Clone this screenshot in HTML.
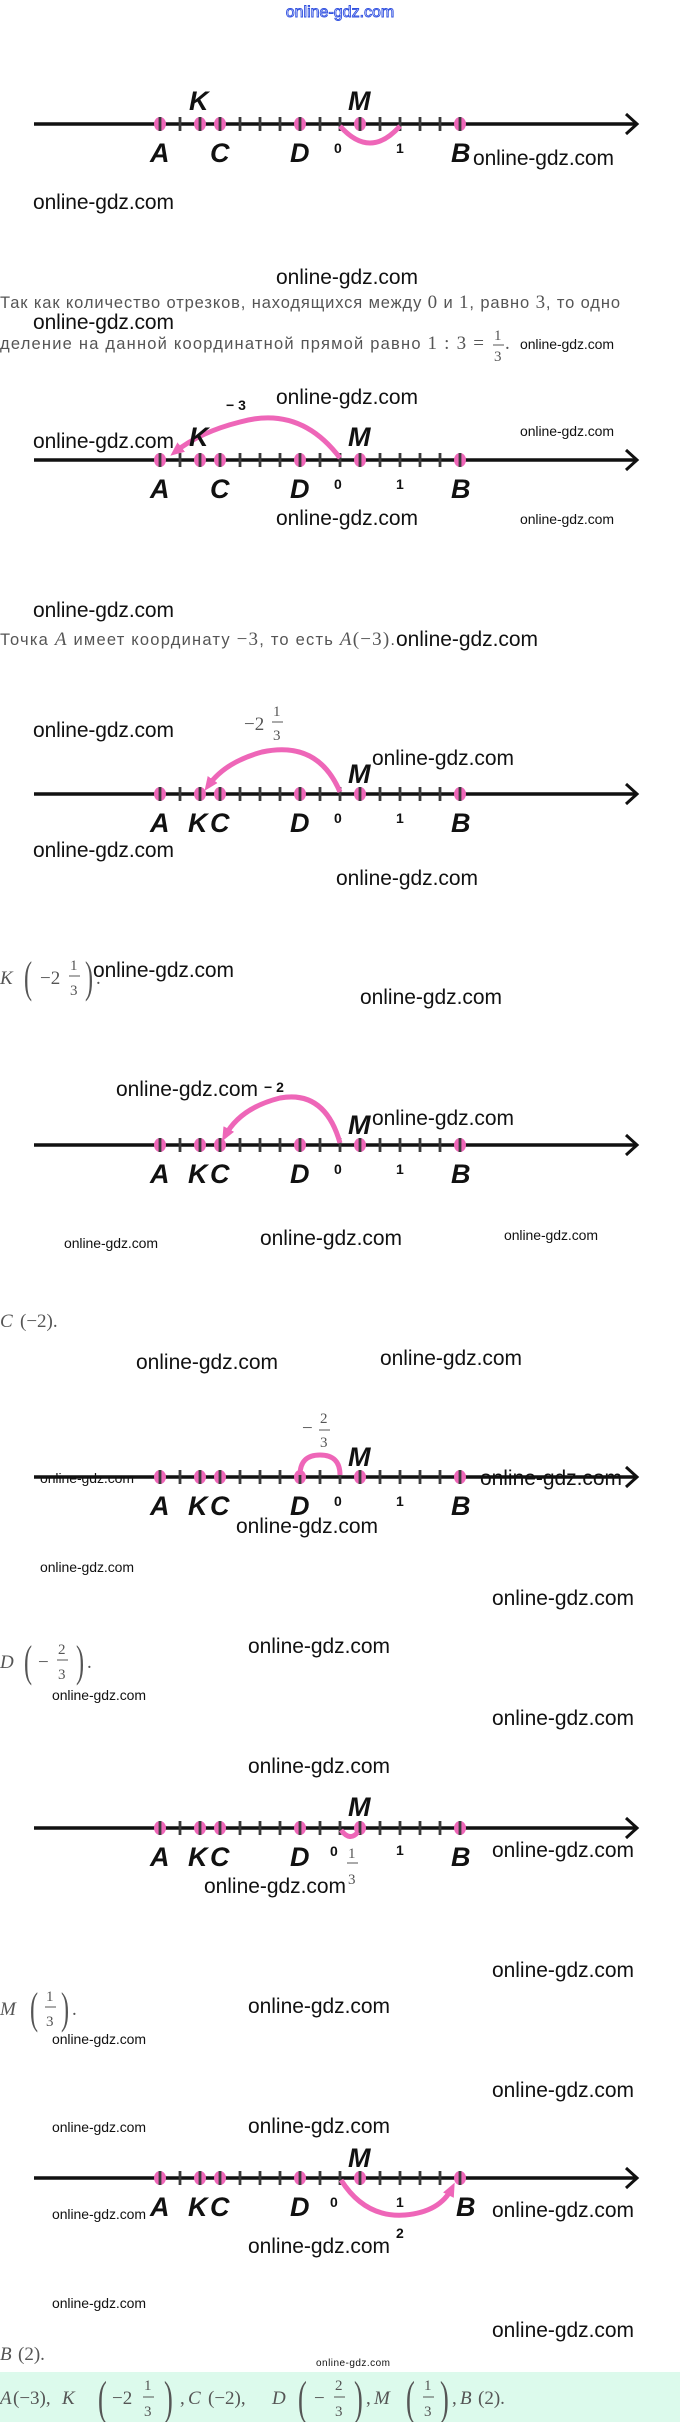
<!DOCTYPE html>
<html><head><meta charset="utf-8"><style>
html,body{margin:0;padding:0;background:#fff}
svg{display:block}
.w{font-family:"Liberation Sans",sans-serif;font-size:21px;fill:#111}
.ws{font-family:"Liberation Sans",sans-serif;font-size:14px;fill:#111}
.L{font-family:"Liberation Sans",sans-serif;font-weight:bold;font-style:italic;font-size:27px;fill:#111}
.n{font-family:"Liberation Sans",sans-serif;font-weight:bold;font-size:14px;fill:#111}
.t{font-family:"Liberation Sans",sans-serif;font-size:16.5px;fill:#555}
.m{font-family:"Liberation Serif",serif;font-size:19px;fill:#555}
.mi{font-family:"Liberation Serif",serif;font-style:italic;font-size:19px;fill:#555}
.f{font-family:"Liberation Serif",serif;font-size:15px;fill:#555}
.p{fill:none;stroke:#ee66b8;stroke-width:5}
</style></head><body>
<svg width="680" height="2422" viewBox="0 0 680 2422" xmlns="http://www.w3.org/2000/svg">
<defs>
<g id="nl">
<line x1="34" y1="0" x2="636" y2="0" stroke="#111" stroke-width="3.5"/>
<polyline points="626,-10 637,0 626,10" fill="none" stroke="#111" stroke-width="3"/>
<g fill="#ee66b8"><ellipse cx="160" cy="0" rx="6" ry="7"/><ellipse cx="200" cy="0" rx="6" ry="7"/><ellipse cx="220" cy="0" rx="6" ry="7"/><ellipse cx="300" cy="0" rx="6" ry="7"/><ellipse cx="360" cy="0" rx="6" ry="7"/><ellipse cx="460" cy="0" rx="6" ry="7"/></g>
<path d="M160-7v14M180-7v14M200-7v14M220-7v14M240-7v14M260-7v14M280-7v14M300-7v14M320-7v14M340-7v14M360-7v14M380-7v14M400-7v14M420-7v14M440-7v14M460-7v14" stroke="#3a3a3a" stroke-width="2.8"/>
</g>
<marker id="ah" markerWidth="14" markerHeight="12" refX="8" refY="6" orient="auto" markerUnits="userSpaceOnUse"><path d="M0,0L14,6L0,12z" fill="#ee66b8"/></marker>
</defs>

<text x="340" y="17" text-anchor="middle" font-family="Liberation Sans,sans-serif" font-size="16" fill="#fff" stroke="#3050e0" stroke-width="0.9">online-gdz.com</text>

<!-- D1 -->
<use href="#nl" y="124"/>
<path class="p" d="M340,126 Q370,160 400,126"/>
<text class="L" x="189" y="110" textLength="18">K</text>
<text class="L" x="348" y="110" textLength="24">M</text>
<text class="L" x="150" y="162" textLength="19">A</text>
<text class="L" x="210" y="162" textLength="18">C</text>
<text class="L" x="290" y="162" textLength="19">D</text>
<text class="L" x="451" y="162" textLength="19">B</text>
<text class="n" x="334" y="153">0</text><text class="n" x="396" y="153">1</text>
<text class="w" x="473" y="165" textLength="141">online-gdz.com</text>
<text class="w" x="33" y="209" textLength="141">online-gdz.com</text>
<text class="w" x="276" y="284" textLength="142">online-gdz.com</text>
<text class="t" x="0" y="308" textLength="620">Так как количество отрезков, находящихся между <tspan class="m">0</tspan> и <tspan class="m">1</tspan>, равно <tspan class="m">3</tspan>, то одно</text>
<text class="w" x="33" y="329" textLength="141">online-gdz.com</text>
<text class="t" x="0" y="349" textLength="484">деление на данной координатной прямой равно <tspan class="m">1 : 3 =</tspan></text>
<text class="f" x="494" y="340">1</text><line x1="493" y1="345" x2="504" y2="345" stroke="#555"/><text class="f" x="494" y="361">3</text><text class="m" x="505" y="349">.</text>
<text class="ws" x="520" y="349" textLength="94">online-gdz.com</text>

<!-- D2 -->
<text class="n" x="226" y="410" font-size="16">− 3</text>
<text class="w" x="276" y="404" textLength="142">online-gdz.com</text>
<text class="ws" x="520" y="436" textLength="94">online-gdz.com</text>
<text class="w" x="33" y="448" textLength="141">online-gdz.com</text>
<use href="#nl" y="460"/>
<path class="p" d="M340,458 Q300,405 240,422 Q200,432 175,452" marker-end="url(#ah)"/>
<text class="L" x="189" y="446" textLength="18">K</text>
<text class="L" x="348" y="446" textLength="24">M</text>
<text class="L" x="150" y="498" textLength="19">A</text>
<text class="L" x="210" y="498" textLength="18">C</text>
<text class="L" x="290" y="498" textLength="19">D</text>
<text class="L" x="451" y="498" textLength="19">B</text>
<text class="n" x="334" y="489">0</text><text class="n" x="396" y="489">1</text>
<text class="w" x="276" y="525" textLength="142">online-gdz.com</text>
<text class="ws" x="520" y="524" textLength="94">online-gdz.com</text>
<text class="w" x="33" y="617" textLength="141">online-gdz.com</text>
<text class="t" x="0" y="645" textLength="395">Точка <tspan class="mi">A</tspan> имеет координату <tspan class="m">−3</tspan>, то есть <tspan class="mi">A</tspan><tspan class="m">(−3)</tspan>.</text>
<text class="w" x="396" y="646" textLength="142">online-gdz.com</text>

<!-- D3 -->
<text class="m" x="244" y="730">−2</text>
<text class="f" x="273" y="716">1</text><line x1="272" y1="722" x2="283" y2="722" stroke="#555"/><text class="f" x="273" y="740">3</text>
<text class="w" x="33" y="737" textLength="141">online-gdz.com</text>
<text class="w" x="372" y="765" textLength="142">online-gdz.com</text>
<use href="#nl" y="794"/>
<path class="p" d="M340,792 Q318,740 262,752 Q225,762 208,786" marker-end="url(#ah)"/>
<text class="L" x="348" y="783" textLength="24">M</text>
<text class="L" x="150" y="832" textLength="19">A</text>
<text class="L" x="188" y="832" textLength="18">K</text>
<text class="L" x="210" y="832" textLength="18">C</text>
<text class="L" x="290" y="832" textLength="19">D</text>
<text class="L" x="451" y="832" textLength="19">B</text>
<text class="n" x="334" y="823">0</text><text class="n" x="396" y="823">1</text>
<text class="w" x="33" y="857" textLength="141">online-gdz.com</text>
<text class="w" x="336" y="885" textLength="142">online-gdz.com</text>
<text class="mi" x="0" y="984">K</text>
<text x="24" y="992" font-family="Liberation Serif,serif" font-size="44" fill="#555" transform="translate(24 0) scale(0.55 1) translate(-24 0)">(</text>
<text class="m" x="40" y="984">−2</text>
<text class="f" x="70" y="970">1</text><line x1="69" y1="976" x2="80" y2="976" stroke="#555"/><text class="f" x="70" y="995">3</text>
<text x="85" y="992" font-family="Liberation Serif,serif" font-size="44" fill="#555" transform="translate(85 0) scale(0.55 1) translate(-85 0)">)</text>
<text class="m" x="96" y="984">.</text>
<text class="w" x="93" y="977" textLength="141">online-gdz.com</text>
<text class="w" x="360" y="1004" textLength="142">online-gdz.com</text>

<!-- D4 -->
<text class="w" x="116" y="1096" textLength="142">online-gdz.com</text>
<text class="n" x="264" y="1092" font-size="16">− 2</text>
<text class="w" x="372" y="1125" textLength="142">online-gdz.com</text>
<use href="#nl" y="1145"/>
<path class="p" d="M340,1143 Q325,1090 280,1098 Q240,1108 225,1136" marker-end="url(#ah)"/>
<text class="L" x="348" y="1134" textLength="24">M</text>
<text class="L" x="150" y="1183" textLength="19">A</text>
<text class="L" x="188" y="1183" textLength="18">K</text>
<text class="L" x="210" y="1183" textLength="18">C</text>
<text class="L" x="290" y="1183" textLength="19">D</text>
<text class="L" x="451" y="1183" textLength="19">B</text>
<text class="n" x="334" y="1174">0</text><text class="n" x="396" y="1174">1</text>
<text class="ws" x="64" y="1248" textLength="94">online-gdz.com</text>
<text class="w" x="260" y="1245" textLength="142">online-gdz.com</text>
<text class="ws" x="504" y="1240" textLength="94">online-gdz.com</text>
<text class="mi" x="0" y="1327">C</text><text class="m" x="20" y="1327">(−2).</text>
<text class="w" x="136" y="1369" textLength="142">online-gdz.com</text>
<text class="w" x="380" y="1365" textLength="142">online-gdz.com</text>

<!-- D5 -->
<text class="m" x="302" y="1434">−</text>
<text class="f" x="320" y="1423">2</text><line x1="319" y1="1430" x2="330" y2="1430" stroke="#555"/><text class="f" x="320" y="1447">3</text>
<use href="#nl" y="1477"/>
<path class="p" d="M300,1475 Q300,1455 320,1455 Q340,1455 340,1475"/>
<text class="L" x="348" y="1466" textLength="24">M</text>
<text class="ws" x="40" y="1483" textLength="94">online-gdz.com</text>
<text class="w" x="480" y="1485" textLength="142">online-gdz.com</text>
<text class="L" x="150" y="1515" textLength="19">A</text>
<text class="L" x="188" y="1515" textLength="18">K</text>
<text class="L" x="210" y="1515" textLength="18">C</text>
<text class="L" x="290" y="1515" textLength="19">D</text>
<text class="L" x="451" y="1515" textLength="19">B</text>
<text class="n" x="334" y="1506">0</text><text class="n" x="396" y="1506">1</text>
<text class="w" x="236" y="1533" textLength="142">online-gdz.com</text>
<text class="ws" x="40" y="1572" textLength="94">online-gdz.com</text>
<text class="w" x="492" y="1605" textLength="142">online-gdz.com</text>
<text class="w" x="248" y="1653" textLength="142">online-gdz.com</text>
<text class="mi" x="0" y="1668">D</text>
<text x="24" y="1676" font-family="Liberation Serif,serif" font-size="44" fill="#555" transform="translate(24 0) scale(0.55 1) translate(-24 0)">(</text>
<text class="m" x="38" y="1668">−</text>
<text class="f" x="58" y="1654">2</text><line x1="57" y1="1660" x2="68" y2="1660" stroke="#555"/><text class="f" x="58" y="1679">3</text>
<text x="76" y="1676" font-family="Liberation Serif,serif" font-size="44" fill="#555" transform="translate(76 0) scale(0.55 1) translate(-76 0)">)</text>
<text class="m" x="87" y="1668">.</text>
<text class="ws" x="52" y="1700" textLength="94">online-gdz.com</text>
<text class="w" x="492" y="1725" textLength="142">online-gdz.com</text>

<!-- D6 -->
<text class="w" x="248" y="1773" textLength="142">online-gdz.com</text>
<use href="#nl" y="1828"/>
<path class="p" d="M341,1830 Q350,1842 358,1832" stroke-width="4"/>
<text class="L" x="348" y="1816" textLength="24">M</text>
<text class="L" x="150" y="1866" textLength="19">A</text>
<text class="L" x="188" y="1866" textLength="18">K</text>
<text class="L" x="210" y="1866" textLength="18">C</text>
<text class="L" x="290" y="1866" textLength="19">D</text>
<text class="L" x="451" y="1866" textLength="19">B</text>
<text class="n" x="396" y="1855">1</text>
<text class="n" x="330" y="1856">0</text>
<text class="f" x="348" y="1858">1</text><line x1="347" y1="1863" x2="358" y2="1863" stroke="#555"/><text class="f" x="348" y="1884">3</text>
<text class="w" x="492" y="1857" textLength="142">online-gdz.com</text>
<text class="w" x="204" y="1893" textLength="142">online-gdz.com</text>
<text class="w" x="492" y="1977" textLength="142">online-gdz.com</text>
<text class="w" x="248" y="2013" textLength="142">online-gdz.com</text>
<text class="mi" x="0" y="2015">M</text>
<text x="30" y="2023" font-family="Liberation Serif,serif" font-size="44" fill="#555" transform="translate(30 0) scale(0.55 1) translate(-30 0)">(</text>
<text class="f" x="46" y="2001">1</text><line x1="45" y1="2007" x2="56" y2="2007" stroke="#555"/><text class="f" x="46" y="2026">3</text>
<text x="61" y="2023" font-family="Liberation Serif,serif" font-size="44" fill="#555" transform="translate(61 0) scale(0.55 1) translate(-61 0)">)</text>
<text class="m" x="72" y="2015">.</text>
<text class="ws" x="52" y="2044" textLength="94">online-gdz.com</text>
<text class="w" x="492" y="2097" textLength="142">online-gdz.com</text>
<text class="ws" x="52" y="2132" textLength="94">online-gdz.com</text>
<text class="w" x="248" y="2133" textLength="142">online-gdz.com</text>

<!-- D7 -->
<use href="#nl" y="2178"/>
<path class="p" d="M341,2180 Q365,2218 405,2215 Q440,2212 452,2188" marker-end="url(#ah)"/>
<text class="L" x="348" y="2167" textLength="24">M</text>
<text class="L" x="150" y="2216" textLength="19">A</text>
<text class="L" x="188" y="2216" textLength="18">K</text>
<text class="L" x="210" y="2216" textLength="18">C</text>
<text class="L" x="290" y="2216" textLength="19">D</text>
<text class="L" x="456" y="2216" textLength="19">B</text>
<text class="n" x="330" y="2207">0</text><text class="n" x="396" y="2207">1</text>
<text class="ws" x="52" y="2219" textLength="94">online-gdz.com</text>
<text class="w" x="492" y="2217" textLength="142">online-gdz.com</text>
<text class="n" x="396" y="2238">2</text>
<text class="w" x="248" y="2253" textLength="142">online-gdz.com</text>
<text class="ws" x="52" y="2308" textLength="94">online-gdz.com</text>
<text class="w" x="492" y="2337" textLength="142">online-gdz.com</text>
<text class="mi" x="0" y="2360">B</text><text class="m" x="18" y="2360">(2).</text>
<text x="316" y="2366" font-family="Liberation Sans,sans-serif" font-size="10" fill="#111" textLength="74">online-gdz.com</text>

<rect x="0" y="2372" width="680" height="50" fill="#dcfaec"/>
<g>
<text class="mi" x="0" y="2404">A</text><text class="m" x="13" y="2404">(−3),</text>
<text class="mi" x="62" y="2404">K</text>
<text x="98" y="2414" font-family="Liberation Serif,serif" font-size="48" fill="#555" transform="translate(98 0) scale(0.55 1) translate(-98 0)">(</text>
<text class="m" x="112" y="2404">−2</text>
<text class="f" x="144" y="2390">1</text><line x1="143" y1="2397" x2="154" y2="2397" stroke="#555"/><text class="f" x="144" y="2416">3</text>
<text x="164" y="2414" font-family="Liberation Serif,serif" font-size="48" fill="#555" transform="translate(164 0) scale(0.55 1) translate(-164 0)">)</text>
<text class="m" x="180" y="2404">,</text>
<text class="mi" x="188" y="2404">C</text><text class="m" x="208" y="2404">(−2),</text>
<text class="mi" x="272" y="2404">D</text>
<text x="298" y="2414" font-family="Liberation Serif,serif" font-size="48" fill="#555" transform="translate(298 0) scale(0.55 1) translate(-298 0)">(</text>
<text class="m" x="314" y="2404">−</text>
<text class="f" x="335" y="2390">2</text><line x1="334" y1="2397" x2="345" y2="2397" stroke="#555"/><text class="f" x="335" y="2416">3</text>
<text x="354" y="2414" font-family="Liberation Serif,serif" font-size="48" fill="#555" transform="translate(354 0) scale(0.55 1) translate(-354 0)">)</text>
<text class="m" x="366" y="2404">,</text>
<text class="mi" x="374" y="2404">M</text>
<text x="406" y="2414" font-family="Liberation Serif,serif" font-size="48" fill="#555" transform="translate(406 0) scale(0.55 1) translate(-406 0)">(</text>
<text class="f" x="424" y="2390">1</text><line x1="423" y1="2397" x2="434" y2="2397" stroke="#555"/><text class="f" x="424" y="2416">3</text>
<text x="440" y="2414" font-family="Liberation Serif,serif" font-size="48" fill="#555" transform="translate(440 0) scale(0.55 1) translate(-440 0)">)</text>
<text class="m" x="452" y="2404">,</text>
<text class="mi" x="460" y="2404">B</text><text class="m" x="478" y="2404">(2).</text>
</g>
</svg>
</body></html>
